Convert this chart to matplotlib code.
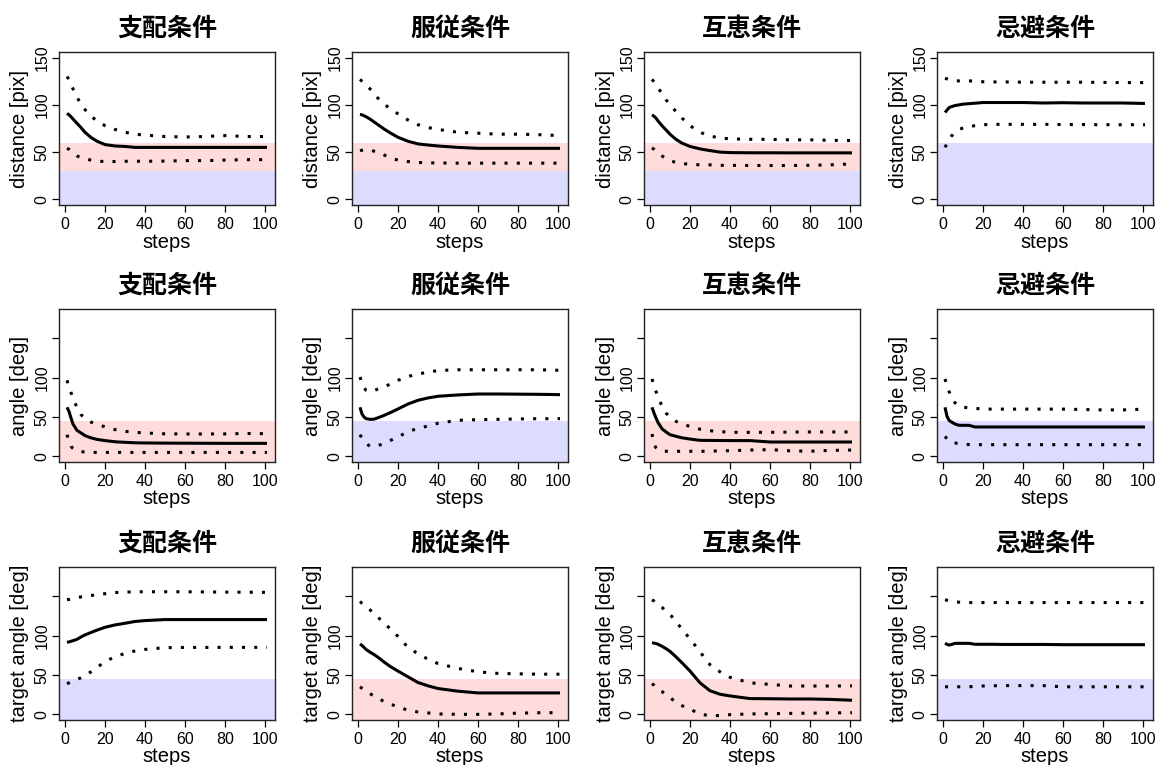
import matplotlib
matplotlib.use("Agg")
import matplotlib.pyplot as plt

# common sampling steps (values at these steps)
steps = [1, 2, 3, 4, 6, 8, 10, 13, 16, 20, 25, 30, 35, 40, 50, 60, 70, 80, 90, 101]

conditions = ["支配条件", "服従条件", "互恵条件", "忌避条件"]
row_labels = ["distance [pix]", "angle [deg]", "target angle [deg]"]

# --- row 1: distance ---
dist_dom_mean = [91, 89.5, 87.5, 85, 80.5, 76, 71, 65.5, 61.5, 58, 56.5, 56, 55, 55, 55, 55, 55, 55, 55, 55]
dist_dom_up = [130, 127, 122, 117, 108, 101, 95, 88, 83, 78, 74, 71, 69, 68, 66.5, 66, 66.5, 67.5, 66.5, 66.5]
dist_dom_lo = [54, 53, 51, 49, 46, 44, 43, 41.5, 40.5, 40, 40, 40.3, 40.3, 40.3, 40.5, 41, 41, 41.5, 42, 42]

dist_sub_mean = [90, 89.5, 88.5, 87.5, 85, 82, 79, 74.5, 70.5, 65.7, 61.5, 58.7, 57.5, 56.5, 55, 54, 54, 54, 54, 54]
dist_sub_up = [127, 125, 123, 121, 117, 112, 107, 101, 96, 90.5, 84, 79, 76, 74, 71, 70, 69, 69, 68.5, 67.5]
dist_sub_lo = [51.5, 52, 52.5, 52.5, 52, 51, 50, 47, 44, 41.5, 40, 39, 38.7, 38.5, 38.3, 38.3, 38.3, 38.3, 38.3, 38.3]

dist_rec_mean = [89.5, 88, 86, 83, 78, 73.5, 69, 63.5, 59.5, 56, 53.4, 51.6, 50, 49.5, 49.3, 49.3, 49.2, 49.2, 49.2, 49.2]
dist_rec_up = [127, 124.5, 121.5, 118, 112, 105.5, 100, 93, 86, 78, 71, 67, 65, 64, 63.6, 63.5, 63, 63, 62.5, 62.2]
dist_rec_lo = [54.5, 53, 51, 49.5, 46, 43, 41, 39, 38, 37, 36.5, 36.5, 36, 36, 35.8, 35.8, 35.8, 36, 36.5, 37.5]

dist_avo_mean = [92, 94.5, 97, 98, 99.3, 100, 100.8, 101.3, 101.8, 102.5, 102.5, 102.5, 102.5, 102.5, 102, 102.3, 102, 102, 102, 101.5]
dist_avo_up = [128.2, 127.5, 126.5, 126, 125.4, 125.4, 125.4, 125.4, 125.2, 124.5, 124.3, 124.3, 124.3, 124, 124, 124, 124, 123.8, 123.6, 123.6]
dist_avo_lo = [55, 59, 63, 66.4, 71, 74, 75.5, 77, 78, 79, 79.4, 79.4, 79.4, 79.4, 79.4, 79.2, 79.2, 79, 79, 79]

# --- row 2: angle ---
ang_dom_mean = [62.3, 57, 48.7, 41, 33, 29.7, 26.3, 23.5, 21.5, 20, 18.5, 17.8, 17.2, 17, 16.8, 16.7, 16.6, 16.5, 16.5, 16.5]
ang_dom_up = [96.6, 88, 81, 74, 62, 53, 48, 43.5, 40.5, 37.5, 34, 31.8, 30.5, 29.7, 28.6, 28.4, 28.4, 28.5, 29, 28.8]
ang_dom_lo = [27.5, 19, 12.7, 10, 7, 6, 5.5, 5, 5, 5, 5, 5, 5, 5, 5, 5, 5, 5, 5, 5]

ang_sub_mean = [62.3, 53.8, 50, 47.9, 47, 47.2, 49, 52, 55.3, 60.2, 66.5, 71.2, 74.2, 76.3, 78, 79.2, 79.2, 79, 78.8, 78.4]
ang_sub_up = [100.8, 93, 87, 84, 82.2, 83.5, 85.6, 88.5, 91.5, 96.6, 101.5, 104.5, 107, 109, 110, 110, 110, 110, 110, 109.3]
ang_sub_lo = [27.5, 23, 20, 16.5, 12.7, 12.5, 13.6, 16.5, 20, 24.6, 31.5, 35.5, 38.5, 42, 45.8, 46.6, 47, 47.5, 47.8, 47.9]

ang_rec_mean = [62.3, 55, 48.7, 43, 35, 31, 27.5, 25.5, 23.5, 22, 20.3, 20.2, 20.1, 20, 20, 18.2, 18.2, 18.2, 18.2, 18.2]
ang_rec_up = [98.3, 90, 82.6, 75, 64, 55, 50, 44.5, 41, 38, 34.5, 32.5, 31.5, 30.5, 30.5, 30.5, 30.8, 31, 31, 31]
ang_rec_lo = [28.4, 14.8, 11, 8.5, 6.4, 6.4, 6.4, 6.4, 6.4, 6.4, 6.4, 6.6, 6.9, 7.2, 8, 8.5, 7, 6.5, 7.5, 8]

ang_avo_mean = [62.3, 50.8, 45.8, 44, 41, 39.4, 39.4, 39.4, 37.3, 37.3, 37.3, 37.3, 37.3, 37.3, 37.3, 37.3, 37.3, 37.3, 37.3, 37.3]
ang_avo_up = [98.3, 90, 82.6, 76, 68, 63.6, 62.5, 61.4, 61, 60, 60, 60, 60, 60, 60, 60, 59.5, 59, 59, 60]
ang_avo_lo = [25.4, 22, 19, 18, 17, 16, 15.5, 15, 14.8, 14.8, 14.8, 14.8, 14.8, 14.8, 14.8, 14.8, 14.8, 14.8, 14.8, 14.8]

# --- row 3: target angle ---
tgt_dom_mean = [91.5, 92, 92.8, 93.6, 95.3, 98.3, 100.9, 104, 107, 110.6, 113.6, 115.7, 118, 119.1, 120.4, 120.4, 120.4, 120.4, 120.4, 120.4]
tgt_dom_up = [145.5, 146, 146.7, 147.3, 148.5, 149.2, 149.8, 151, 152, 153.3, 154.7, 155.3, 155.7, 155.7, 155.7, 155.7, 155.5, 155.3, 155.2, 155]
tgt_dom_lo = [39, 40, 41.5, 42.5, 44.3, 46.5, 49.5, 54, 59.5, 67, 73.2, 77.4, 80.5, 82.5, 84.7, 85, 85, 85.1, 85.1, 85.1]

tgt_sub_mean = [89.4, 87.5, 85, 82.5, 79, 76, 72.5, 66.5, 61, 54.9, 47.7, 40.4, 36.2, 32.8, 29.4, 27.2, 27.2, 27.2, 27.2, 27.2]
tgt_sub_up = [143.4, 141, 139, 137, 132.8, 128, 123.4, 116, 109, 99, 85, 77, 70, 64.5, 58.3, 54, 52, 51.5, 51, 51]
tgt_sub_lo = [35, 33, 31, 29.5, 26.4, 23, 20, 16.5, 13, 9.8, 5, 3, 1.8, 0.5, 0, 0, 0.5, 1.5, 2, 2.1]

tgt_rec_mean = [91, 90.5, 90, 89, 86.5, 83.5, 80, 73, 65.5, 55, 40, 30, 25.5, 23.4, 20, 19.8, 19.5, 19.5, 19, 17.9]
tgt_rec_up = [145.5, 144, 142, 140.5, 136, 131, 127, 118, 108, 96, 79.5, 63, 54, 47, 40, 38, 36, 36, 36, 36.2]
tgt_rec_lo = [39, 37, 34, 32, 29, 25, 21.5, 15, 11, 6.5, 0.5, -2, -1.5, -0.4, 0.5, 0.8, 1.2, 1.5, 1.8, 2.1]

tgt_avo_mean = [90.2, 89, 88, 88.5, 90.2, 90.2, 90.2, 90.2, 89, 89, 89, 88.8, 88.8, 88.8, 88.8, 88.5, 88.5, 88.5, 88.5, 88.5]
tgt_avo_up = [145.5, 145, 144.5, 144, 143.2, 142.5, 142, 142, 142, 142, 142, 142, 142, 142, 142, 142, 142, 142, 142, 142]
tgt_avo_lo = [35, 35, 35, 35, 35, 35, 35, 35, 35.5, 36, 36.3, 36.5, 36.5, 36.5, 36.5, 35, 35, 35, 35, 35]

series = [
    [(dist_dom_mean, dist_dom_up, dist_dom_lo), (dist_sub_mean, dist_sub_up, dist_sub_lo),
     (dist_rec_mean, dist_rec_up, dist_rec_lo), (dist_avo_mean, dist_avo_up, dist_avo_lo)],
    [(ang_dom_mean, ang_dom_up, ang_dom_lo), (ang_sub_mean, ang_sub_up, ang_sub_lo),
     (ang_rec_mean, ang_rec_up, ang_rec_lo), (ang_avo_mean, ang_avo_up, ang_avo_lo)],
    [(tgt_dom_mean, tgt_dom_up, tgt_dom_lo), (tgt_sub_mean, tgt_sub_up, tgt_sub_lo),
     (tgt_rec_mean, tgt_rec_up, tgt_rec_lo), (tgt_avo_mean, tgt_avo_up, tgt_avo_lo)],
]

# shaded bands per panel: list of (low, high, colour)
RED = "#ffdcdc"
BLUE = "#dcdcff"
bands = [
    [[(-50, 30, BLUE), (30, 60, RED)], [(-50, 30, BLUE), (30, 60, RED)],
     [(-50, 30, BLUE), (30, 60, RED)], [(-50, 60, BLUE)]],
    [[(-50, 45, RED)], [(-50, 45, BLUE)], [(-50, 45, RED)], [(-50, 45, BLUE)]],
    [[(-50, 45, BLUE)], [(-50, 45, RED)], [(-50, 45, RED)], [(-50, 45, BLUE)]],
]

row_ylim = [(0, 150), (0, 180), (0, 180)]
row_ticks = [[0, 50, 100, 150], [0, 50, 100, 150], [0, 50, 100, 150]]
row_ticklabels = [["0", "50", "100", "150"], ["0", "50", "100", ""], ["0", "50", "100", ""]]
xticks = [0, 20, 40, 60, 80, 100]

W, H = 1158, 765
fig = plt.figure(figsize=(W / 100, H / 100), dpi=100)

col_left = [59, 352, 644, 937]
row_top = [52, 309, 567]
aw, ah = 216, 153

latin = "Liberation Sans"
cjk = ["Noto Sans CJK JP", "DejaVu Sans"]

for r in range(3):
    for c in range(4):
        ax = fig.add_axes([col_left[c] / W, 1 - (row_top[r] + ah) / H, aw / W, ah / H])
        lo, hi = row_ylim[r]
        pad = (hi - lo) * 0.04
        ax.set_ylim(lo - pad, hi + pad)
        ax.set_xlim(-3, 105)
        for b0, b1, col in bands[r][c]:
            ax.axhspan(b0, b1, color=col, lw=0, zorder=0)
        m, u, l = series[r][c]
        ax.plot(steps, m, color="black", lw=2.2, solid_capstyle="butt", zorder=3)
        for s in (u, l):
            ax.plot(steps, s, color="black", lw=2.2, linestyle=(0, (1, 3)),
                    dash_capstyle="butt", zorder=3)

        ax.set_xticks(xticks)
        ax.set_xticklabels([str(x) for x in xticks], fontsize=11.5, family=latin)
        ax.set_yticks(row_ticks[r])
        ax.set_yticklabels(row_ticklabels[r], fontsize=11.5, family=latin, rotation=90, va="center")
        ax.tick_params(axis="both", length=5, width=0.9, color="black")
        ax.tick_params(axis="x", pad=3.5)
        ax.tick_params(axis="y", pad=2)
        for sp in ax.spines.values():
            sp.set_linewidth(1.0)
            sp.set_color("#222222")

        ax.set_xlabel("steps", fontsize=14.5, family=latin, va="center")
        ax.xaxis.set_label_coords(0.5, -37 / ah)
        ax.set_ylabel(row_labels[r], fontsize=14.5, family=latin, va="center")
        ax.yaxis.set_label_coords(-39 / aw, 0.5)

        ax.text(0.5, 1 + 23 / ah, conditions[c], transform=ax.transAxes,
                ha="center", va="center", fontsize=18, fontweight="bold", family=cjk)

fig.savefig("out.png", dpi=100)
